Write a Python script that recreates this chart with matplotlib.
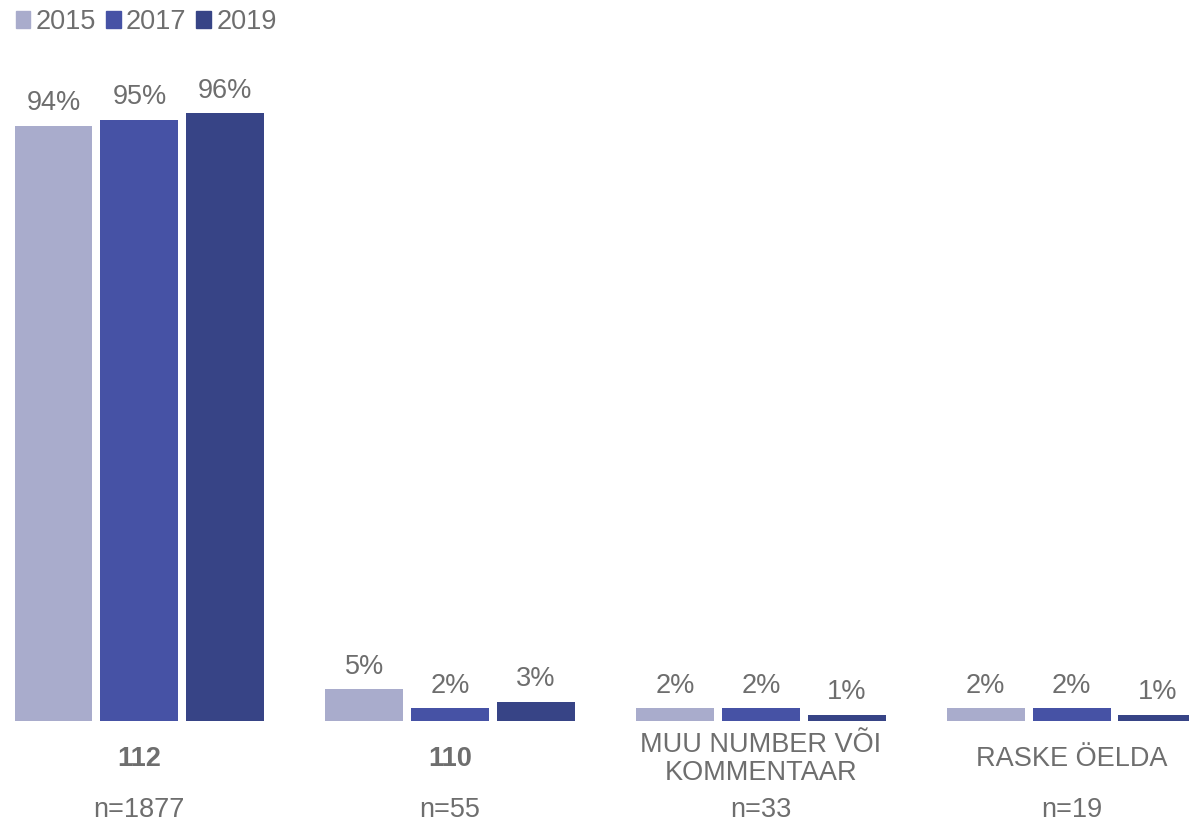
import numpy as np
import matplotlib.pyplot as plt
from matplotlib.patches import Patch

plt.rcParams['font.family'] = ['Liberation Sans', 'DejaVu Sans']

# data
categories = ['112', '110', 'MUU NUMBER VÕI\nKOMMENTAAR', 'RASKE ÖELDA']
bold_cat = [True, True, False, False]
n_labels = ['n=1877', 'n=55', 'n=33', 'n=19']
years = ['2015', '2017', '2019']
v2015 = [94, 5, 2, 2]
v2017 = [95, 2, 2, 2]
v2019 = [96, 3, 1, 1]
colors = ['#A9ACCC', '#4652A5', '#374486']
txt = '#6E6E6E'
fs = 19.5

fig = plt.figure(figsize=(11.89, 8.22), dpi=100)
ax = fig.add_axes([0, 101 / 822, 1, 721 / 822])

x = np.arange(len(categories))
step = 0.2765
width = 0.2508
for i, (vals, c) in enumerate(zip([v2015, v2017, v2019], colors)):
    bars = ax.bar(x + (i - 1) * step, vals, width, color=c, label=years[i])
    ax.bar_label(bars, labels=[f'{v}%' for v in vals], padding=7,
                 fontsize=fs, color=txt)

ax.set_xlim(-0.4486, 3.378)
ax.set_ylim(0, 113.9)
ax.axis('off')

tr = ax.get_xaxis_transform()
for xi, cat, b, n in zip(x, categories, bold_cat, n_labels):
    ax.text(xi, -38 / 721, cat, transform=tr, ha='center', va='center',
            fontsize=fs, color=txt, fontweight='bold' if b else 'normal',
            linespacing=1.12)
    ax.text(xi, -89 / 721, n, transform=tr, ha='center', va='center',
            fontsize=fs, color=txt)

handles = [Patch(color=c) for c in colors]
leg = fig.legend(handles, years, loc='upper left', bbox_to_anchor=(0.004, 1.002),
                 ncol=3, frameon=False, fontsize=fs, handlelength=0.55,
                 handleheight=0.55, handletextpad=0.2, columnspacing=0.35,
                 borderaxespad=0)
for t in leg.get_texts():
    t.set_color(txt)

fig.savefig('out.png', dpi=100)
